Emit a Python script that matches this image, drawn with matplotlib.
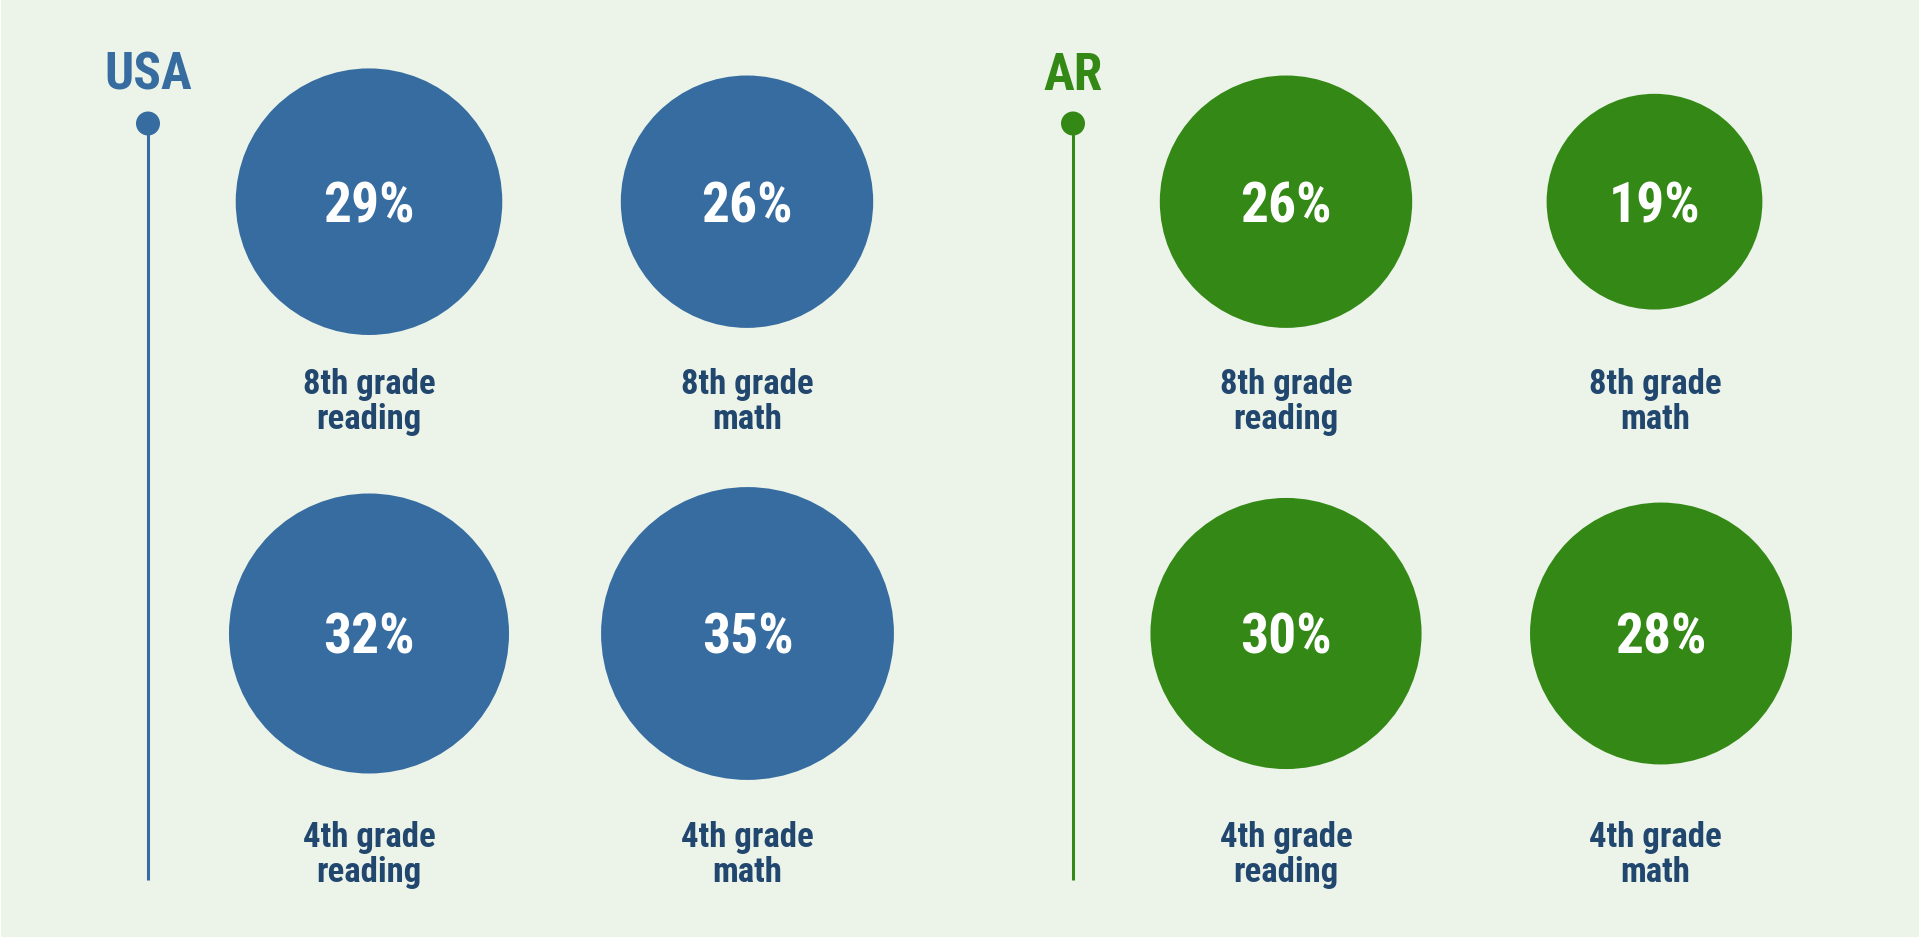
import matplotlib
matplotlib.use("Agg")
import matplotlib.pyplot as plt
from matplotlib.patches import Circle, Rectangle
from matplotlib import font_manager
import numpy as np

# ---- data ----
regions = ["USA", "AR"]
usa_values = [29, 26, 32, 35]
ar_values = [26, 19, 30, 28]
subjects = ["8th grade\nreading", "8th grade\nmath", "4th grade\nreading", "4th grade\nmath"]

# ---- styles ----
BG = "#ecf4e9"
BLUE = "#376ca0"
GREEN = "#348916"
LABEL = "#22476f"

names = {f.name for f in font_manager.fontManager.ttflist}
cands = ["Roboto Condensed", "Liberation Sans Narrow", "DejaVu Sans"]
FONT = next((c for c in cands if c in names), "DejaVu Sans")

W, H = 1919, 945
fig = plt.figure(figsize=(W / 100, H / 100), dpi=100, facecolor="white")
ax = fig.add_axes([0, 0, 1, 1])
ax.set_xlim(0, W)
ax.set_ylim(H, 0)
ax.set_aspect("equal")
ax.axis("off")
ax.add_patch(Rectangle((1, 1), W, 937, facecolor=BG, edgecolor="none", zorder=0))

K = 24.75  # px per sqrt(percent)
# (name, values, colour, timeline x, circle x per item, label x per column)
panels = [
    (regions[0], usa_values, BLUE, 148, [369, 747, 369, 747.5], [369, 747]),
    (regions[1], ar_values, GREEN, 1073, [1286, 1654.5, 1286, 1661], [1286, 1655]),
]
row_y = [202.7, 634.5]
label_base = [[394, 429], [847, 882]]

for name, vals, col, lx, cxs, lxs in panels:
    ax.text(lx, 90, name, color=col, fontsize=37, fontweight="bold", family=FONT,
            ha="center", va="baseline")
    ax.plot([lx, lx], [124.5, 881], color=col, lw=2.2, solid_capstyle="butt", zorder=1)
    ax.add_patch(Circle((lx, 124.5), 12, facecolor=col, edgecolor="none", zorder=2))
    for i, v in enumerate(vals):
        r, c = divmod(i, 2)
        cx, cy = cxs[i], row_y[r]
        ax.add_patch(Circle((cx, cy), K * np.sqrt(v), facecolor=col, edgecolor="none", zorder=2))
        ax.text(cx, cy + 19.5, f"{v}%", color="white", fontsize=40, fontweight="bold",
                family=FONT, ha="center", va="baseline", zorder=3)
        l1, l2 = subjects[i].split("\n")
        ax.text(lxs[c], label_base[r][0], l1, color=LABEL, fontsize=25, fontweight="bold",
                family=FONT, ha="center", va="baseline", zorder=3)
        ax.text(lxs[c], label_base[r][1], l2, color=LABEL, fontsize=25, fontweight="bold",
                family=FONT, ha="center", va="baseline", zorder=3)

fig.savefig("out.png", dpi=100, facecolor="white")
